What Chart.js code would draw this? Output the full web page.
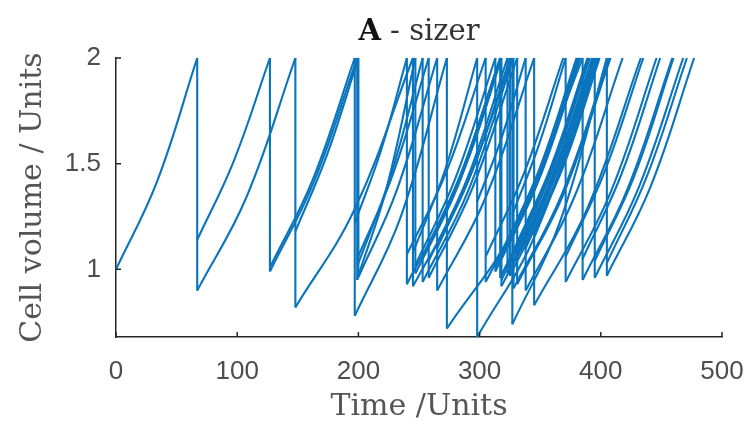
<!DOCTYPE html>
<html>
<head>
<meta charset="utf-8">
<script src="https://cdn.jsdelivr.net/npm/chart.js@4.4.1/dist/chart.umd.min.js"></script>
<style>
  html, body { margin: 0; padding: 0; background: #fff; }
</style>
</head>
<body>
<canvas id="cells" width="755" height="425"></canvas>
<script>
// one entry per cell, mother cells before daughters
const birthTime = [
  0,
  67, 67,
  127, 127, 148, 148,
  197, 197, 199, 199, 200, 200, 245, 245,
  273, 273, 240, 240, 265, 265, 258, 258, 247, 247, 253, 253, 327, 327, 298, 298,
  385, 385, 318, 318, 317, 317, 305, 305, 345, 345, 325, 325, 331, 331, 323, 323,
  318, 318, 313, 313, 328, 328, 317, 317, 405, 405, 371, 371, 395, 395, 338, 338
];
const birthVolume = [
  1.00,
  1.14, 0.90,
  1.01, 0.99, 1.18, 0.82,
  0.78, 1.22, 0.95, 1.05, 0.97, 1.03, 0.92, 1.08,
  0.72, 1.28, 0.93, 1.07, 0.90, 1.10, 0.96, 1.04, 0.98, 1.02, 0.94, 1.06, 0.74, 1.26, 0.68, 1.32,
  0.95, 1.05, 0.92, 1.08, 0.96, 1.04, 0.94, 1.06, 0.83, 1.17, 0.97, 1.03, 0.93, 1.07, 0.98, 1.02,
  0.95, 1.05, 0.99, 1.01, 0.91, 1.09, 0.96, 1.04, 0.97, 1.03, 0.94, 1.06, 0.96, 1.04, 0.90, 1.10
];
// volume halfway through each cycle
const midVolume = [
  1.41,
  1.51, 1.34,
  1.42, 1.41, 1.54, 1.28,
  1.25, 1.56, 1.38, 1.45, 1.39, 1.44, 1.36, 1.47,
  1.20, 1.60, 1.36, 1.46, 1.34, 1.48, 1.39, 1.44, 1.40, 1.43, 1.37, 1.46, 1.22, 1.59, 1.17, 1.62,
  1.38, 1.45, 1.36, 1.47, 1.39, 1.44, 1.37, 1.46, 1.29, 1.53, 1.39, 1.44, 1.36, 1.46, 1.40, 1.43,
  1.38, 1.45, 1.41, 1.42, 1.35, 1.48, 1.39, 1.44, 1.39, 1.44, 1.37, 1.46, 1.39, 1.44, 1.34, 1.48
];
const divisionTime = [
  67,
  127, 148,
  197, 199, 200, 245,
  273, 240, 265, 258, 247, 253, 327, 298,
  385, 318, 317, 305, 345, 325, 331, 323, 318, 313, 328, 317, 405, 371, 395, 338,
  459, 449, 396, 380, 390, 382, 381, 369, 433, 399, 397, 391, 408, 393, 394, 390,
  393, 382, 383, 381, 407, 389, 390, 382, 477, 471, 446, 435, 468, 460, 418, 398
];
const divisionVolume = 2;

const timeTicks = [0, 100, 200, 300, 400, 500];
const volumeTicks = [1, 1.5, 2];

const lineColor = '#0a74bd';
const axisColor = '#262626';

const datasets = [];
const drops = [];
for (let i = 0; i < birthTime.length; i++) {
  datasets.push({
    data: [
      { x: birthTime[i], y: birthVolume[i] },
      { x: (birthTime[i] + divisionTime[i]) / 2, y: midVolume[i] },
      { x: divisionTime[i], y: divisionVolume }
    ],
    showLine: true,
    borderColor: lineColor,
    borderWidth: 2.1,
    pointRadius: 0,
    tension: 0.4,
    clip: 4
  });
  // drop from the mother's division size down to the daughter's birth size
  if (birthTime[i] > 0) {
    drops.push({ x: birthTime[i], y: divisionVolume }, { x: birthTime[i], y: birthVolume[i] }, { x: birthTime[i], y: null });
  }
}
datasets.unshift({
  data: drops,
  showLine: true,
  spanGaps: false,
  borderColor: lineColor,
  borderWidth: 2.1,
  pointRadius: 0,
  tension: 0,
  clip: 4
});

// inward tick marks and the mixed-weight title
const decorations = {
  id: 'decorations',
  afterDraw(chart) {
    const { ctx, chartArea, scales } = chart;
    ctx.save();
    ctx.strokeStyle = axisColor;
    ctx.lineWidth = 1.5;
    ctx.beginPath();
    for (const t of timeTicks) {
      const px = scales.x.getPixelForValue(t);
      ctx.moveTo(px, chartArea.bottom);
      ctx.lineTo(px, chartArea.bottom - 5);
    }
    for (const v of volumeTicks) {
      const py = scales.y.getPixelForValue(v);
      ctx.moveTo(chartArea.left, py);
      ctx.lineTo(chartArea.left + 5, py);
    }
    ctx.stroke();

    const boldFont = 'bold 29px "DejaVu Serif", serif';
    const plainFont = '29px "DejaVu Serif", serif';
    ctx.font = boldFont;
    const wA = ctx.measureText('A').width;
    ctx.font = plainFont;
    const wRest = ctx.measureText(' - sizer').width;
    const x0 = (chartArea.left + chartArea.right) / 2 - (wA + wRest) / 2;
    ctx.textBaseline = 'alphabetic';
    ctx.textAlign = 'left';
    ctx.fillStyle = '#111';
    ctx.font = boldFont;
    ctx.fillText('A', x0, 40);
    ctx.fillStyle = '#333';
    ctx.font = plainFont;
    ctx.fillText(' - sizer', x0 + wA, 40);
    ctx.restore();
  }
};

new Chart(document.getElementById('cells'), {
  type: 'scatter',
  data: { datasets: datasets },
  plugins: [decorations],
  options: {
    responsive: false,
    animation: false,
    devicePixelRatio: 1,
    layout: { padding: { top: 58, right: 33, left: 0, bottom: 0 } },
    plugins: { legend: { display: false }, tooltip: { enabled: false } },
    scales: {
      x: {
        type: 'linear',
        position: 'bottom',
        min: 0,
        max: 500,
        afterBuildTicks: s => { s.ticks = timeTicks.map(v => ({ value: v })); },
        afterFit: s => { s.height = 88; s.paddingLeft = 0; s.paddingRight = 0; },
        grid: { display: true, drawOnChartArea: false, drawTicks: false },
        border: { display: true, color: axisColor, width: 1.5 },
        ticks: {
          color: '#4d4d4d',
          padding: 19,
          font: { family: '"Liberation Sans", Arial, sans-serif', size: 26 }
        },
        title: {
          display: true,
          text: 'Time /Units',
          color: '#555',
          font: { family: '"DejaVu Serif", serif', size: 30 },
          padding: { top: 0, bottom: 0 }
        }
      },
      y: {
        type: 'linear',
        min: 0.68,
        max: 2,
        afterBuildTicks: s => { s.ticks = volumeTicks.map(v => ({ value: v })); },
        afterFit: s => { s.width = 116; },
        grid: { display: true, drawOnChartArea: false, drawTicks: false },
        border: { display: true, color: axisColor, width: 1.5 },
        ticks: {
          color: '#4d4d4d',
          padding: 15,
          callback: v => String(v),
          font: { family: '"Liberation Sans", Arial, sans-serif', size: 26 }
        },
        title: {
          display: true,
          text: 'Cell volume / Units',
          color: '#555',
          font: { family: '"DejaVu Serif", serif', size: 30 },
          padding: { top: 15, bottom: 0 }
        }
      }
    }
  }
});
</script>
</body>
</html>
